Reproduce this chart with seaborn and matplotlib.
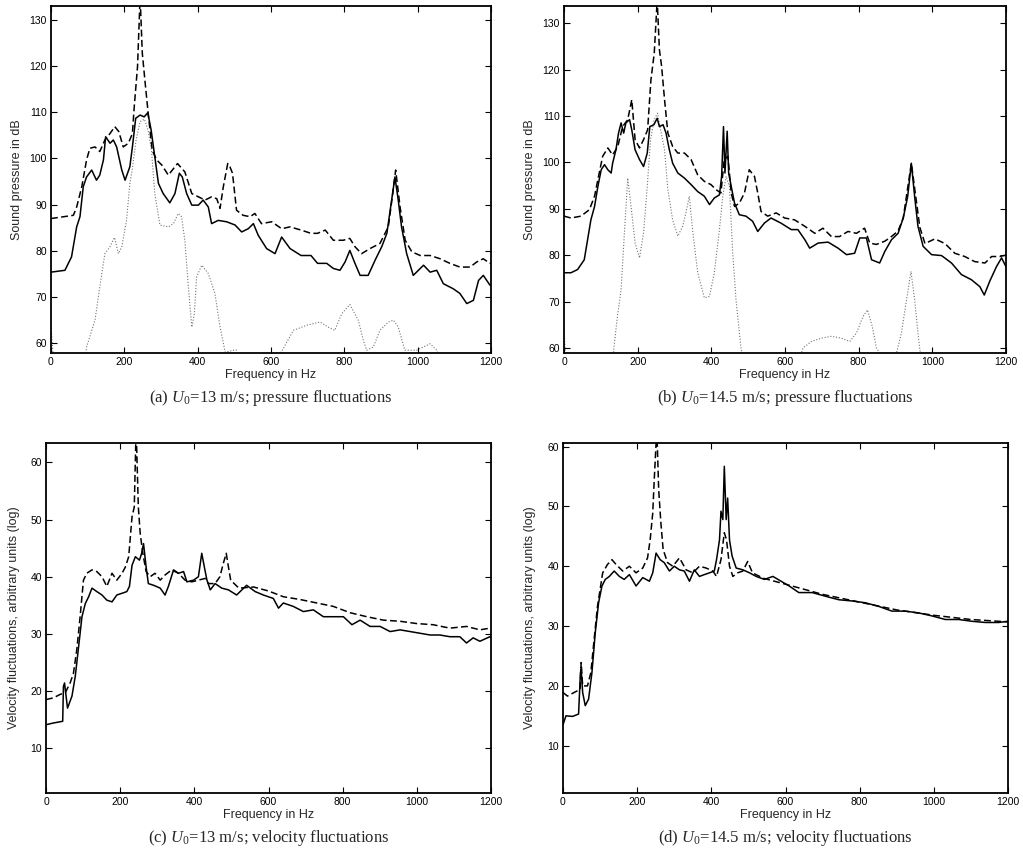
import matplotlib
matplotlib.use("Agg")
import matplotlib.pyplot as plt
import seaborn as sns

# ---------------- Panel (a): U0 = 13 m/s, pressure ----------------
a_solid_f = [0, 38, 56, 70, 79, 88, 97, 111, 124, 133, 143, 149, 161, 170, 179, 193, 202, 215, 222, 231,
             243, 254, 264, 273, 283, 293, 306, 324, 338, 350, 358, 370, 384, 402, 415, 429, 438, 456, 479, 502,
             520, 538, 552, 565, 588, 611, 629, 652, 682, 709, 727, 752, 770, 788, 802, 815, 829, 843, 865, 884,
             902, 916, 929, 938, 947, 956, 970, 988, 1002, 1016, 1034, 1052, 1070, 1097, 1115, 1134, 1152, 1166, 1179, 1197,
             1200]
a_solid_v = [75.4, 75.8, 78.7, 85.2, 87.4, 93.9, 96.0, 97.5, 95.3, 96.4, 99.7, 104.7, 103.3, 104.0, 102.5, 97.5, 95.3, 98.2, 102.5, 108.7,
             109.4, 109.0, 109.9, 106.2, 100.4, 94.6, 92.4, 90.4, 92.4, 96.8, 96.0, 92.4, 89.9, 89.9, 91.0, 89.5, 85.9, 86.6, 86.3, 85.6,
             84.1, 84.8, 85.9, 83.4, 80.5, 79.4, 83.0, 80.5, 79.0, 79.0, 77.3, 77.3, 76.2, 75.8, 77.6, 80.1, 77.3, 74.7, 74.7, 78.0,
             80.9, 83.8, 91.0, 96.0, 91.0, 85.2, 79.4, 74.7, 75.8, 76.9, 75.4, 75.8, 72.9, 71.8, 70.8, 68.6, 69.3, 73.6, 74.7, 72.6,
             72.5]
a_dash_f = [0, 61, 70, 84, 97, 106, 120, 133, 147, 161, 174, 185, 197, 211, 222, 227, 236, 243, 249, 256,
            265, 276, 288, 302, 320, 334, 345, 365, 384, 402, 420, 438, 452, 461, 470, 482, 488, 495, 506, 524,
            543, 556, 574, 602, 629, 652, 682, 709, 727, 748, 770, 797, 815, 829, 847, 870, 897, 920, 932, 940,
            952, 966, 984, 1007, 1034, 1061, 1088, 1115, 1143, 1161, 1179, 1197, 1200]
a_dash_v = [87.0, 87.7, 89.5, 93.9, 99.7, 102.2, 102.5, 101.5, 104.0, 105.4, 106.9, 105.8, 102.5, 103.3, 105.4, 111.2, 119.9, 135.0, 122.8, 117.0,
            109.8, 101.8, 99.7, 98.6, 96.4, 97.8, 98.9, 97.1, 92.4, 91.7, 91.0, 91.7, 91.3, 89.2, 93.9, 98.9, 98.2, 96.8, 88.8, 87.7,
            87.4, 88.1, 85.9, 86.3, 84.8, 85.2, 84.5, 83.8, 83.8, 84.5, 82.3, 82.3, 82.7, 80.9, 79.4, 80.5, 81.6, 85.2, 92.4, 97.5,
            89.5, 82.3, 79.8, 79.0, 79.0, 78.3, 77.3, 76.5, 76.5, 77.6, 78.3, 77.3, 77.5]
a_dot_f = [0, 6, 90, 97, 120, 133, 147, 161, 173, 184, 193, 206, 215, 222, 232, 243, 255, 265, 274, 283,
           297, 320, 334, 347, 356, 365, 374, 384, 391, 397, 411, 429, 447, 461, 475, 505, 520, 600, 633, 661,
           697, 734, 756, 774, 793, 815, 838, 852, 861, 879, 897, 920, 934, 947, 965, 997, 1015, 1034, 1052, 1070,
           1200]
a_dot_v = [64.0, 57.0, 55.0, 59.2, 65.0, 72.2, 79.4, 80.9, 82.9, 79.4, 80.9, 86.6, 94.6, 97.8, 104.0, 108.0, 108.5, 106.0, 101.8, 92.4,
           85.6, 85.2, 85.9, 88.1, 87.4, 82.3, 72.9, 63.5, 66.4, 74.3, 76.9, 75.1, 70.8, 63.5, 58.1, 58.6, 55.0, 55.0, 58.8, 62.8,
           63.9, 64.6, 63.5, 62.8, 66.4, 68.4, 65.0, 60.6, 58.5, 59.2, 62.8, 64.6, 65.0, 63.5, 58.5, 58.5, 59.2, 59.9, 58.5, 55.0,
           55.0]

# ---------------- Panel (b): U0 = 14.5 m/s, pressure ----------------
b_solid_f = [0, 19, 37, 55, 64, 73, 83, 92, 101, 110, 119, 128, 132, 141, 148, 155, 162, 168, 178, 184,
             193, 205, 216, 226, 233, 244, 253, 259, 269, 277, 286, 295, 309, 327, 345, 363, 381, 395, 408, 422,
             428, 433, 437, 443, 447, 454, 463, 476, 494, 512, 526, 544, 562, 589, 617, 635, 654, 667, 690, 717,
             744, 767, 789, 803, 821, 835, 857, 871, 889, 907, 921, 933, 943, 952, 961, 975, 998, 1025, 1052, 1079,
             1106, 1129, 1141, 1156, 1174, 1188, 1200]
b_solid_v = [76.2, 76.2, 76.9, 79.0, 83.3, 87.6, 90.5, 94.8, 98.4, 99.5, 98.4, 97.7, 99.8, 102.7, 106.3, 108.5, 106.3, 108.5, 109.2, 107.0,
             102.7, 100.6, 99.1, 102.0, 107.7, 108.1, 109.5, 107.7, 108.1, 106.3, 102.7, 99.8, 97.7, 96.6, 95.2, 93.7, 92.7, 90.9, 92.3, 93.0,
             97.0, 107.7, 97.7, 106.7, 97.7, 94.8, 91.2, 88.7, 88.4, 87.3, 85.1, 86.9, 88.0, 86.9, 85.5, 85.5, 83.3, 81.5, 82.6, 82.8,
             81.5, 80.1, 80.4, 83.7, 83.7, 79.0, 78.3, 80.8, 83.3, 84.7, 88.0, 92.6, 99.8, 92.6, 86.2, 81.9, 80.1, 79.9, 78.3, 75.8,
             74.7, 73.2, 71.4, 74.4, 77.5, 79.4, 77.5]
b_dash_f = [0, 19, 46, 69, 83, 92, 105, 119, 132, 146, 159, 173, 184, 193, 205, 216, 227, 236, 245, 253,
            259, 265, 273, 282, 295, 309, 327, 345, 363, 381, 399, 413, 426, 435, 445, 454, 463, 476, 490, 503,
            517, 526, 535, 553, 576, 599, 626, 654, 681, 703, 726, 748, 771, 794, 816, 830, 848, 871, 889, 907,
            921, 943, 966, 980, 1007, 1034, 1061, 1088, 1115, 1143, 1161, 1183, 1200]
b_dash_v = [88.4, 88.0, 88.4, 89.8, 92.7, 96.3, 101.3, 103.1, 101.6, 103.4, 107.7, 109.2, 113.5, 104.9, 103.1, 104.9, 107.0, 117.8, 123.5, 135.0,
            124.3, 120.7, 113.5, 106.3, 103.4, 102.0, 102.0, 100.6, 97.3, 95.9, 95.2, 94.1, 93.4, 100.6, 101.3, 93.4, 90.5, 91.2, 93.4, 98.4,
            97.0, 93.4, 89.4, 88.4, 89.1, 88.0, 87.6, 86.2, 84.7, 85.8, 84.0, 84.0, 85.1, 84.7, 85.8, 82.6, 82.3, 83.0, 84.0, 85.2,
            88.0, 99.8, 86.0, 82.5, 83.5, 82.5, 80.4, 79.7, 78.6, 78.3, 79.7, 79.7, 80.0]
b_dot_f = [0, 5, 130, 135, 144, 155, 164, 173, 182, 193, 205, 216, 226, 235, 245, 254, 264, 273, 282, 295,
           309, 322, 331, 340, 350, 363, 381, 395, 408, 422, 431, 440, 449, 458, 467, 481, 500, 630, 649, 672,
           699, 726, 753, 776, 794, 812, 824, 837, 848, 857, 880, 903, 916, 930, 942, 952, 961, 966, 980, 1200]
b_dot_v = [64.0, 57.0, 55.0, 59.6, 66.1, 72.6, 84.8, 96.6, 90.5, 82.6, 79.4, 84.8, 94.8, 104.9, 109.2, 110.6, 106.3, 102.7, 94.1, 87.6,
           84.1, 86.2, 89.1, 92.7, 84.8, 76.2, 70.8, 71.1, 76.2, 85.5, 92.7, 97.0, 94.8, 80.5, 70.4, 59.6, 55.0, 55.0, 60.0, 61.4,
           62.1, 62.5, 62.1, 61.4, 63.2, 66.8, 68.2, 64.6, 60.0, 59.0, 57.0, 59.0, 63.2, 70.4, 76.5, 70.4, 63.2, 59.6, 55.0, 55.0]

# ---------------- Panel (c): U0 = 13 m/s, velocity ----------------
c_solid_f = [0, 20, 45, 47, 50, 58, 70, 79, 88, 97, 106, 115, 124, 137, 151, 164, 178, 191, 205, 218,
             225, 232, 241, 252, 258, 263, 270, 276, 290, 308, 321, 330, 344, 357, 371, 380, 398, 411, 420, 427,
             434, 443, 456, 474, 492, 514, 541, 564, 586, 613, 627, 640, 667, 694, 721, 748, 775, 802, 825, 847,
             874, 901, 928, 955, 982, 1009, 1036, 1062, 1089, 1116, 1134, 1152, 1170, 1197, 1200]
c_solid_v = [14.1, 14.4, 14.7, 20.8, 21.4, 17.0, 19.1, 22.6, 27.8, 33.0, 35.3, 36.5, 38.0, 37.4, 36.8, 35.9, 35.6, 36.8, 37.1, 37.4,
             38.3, 42.0, 43.5, 42.9, 44.1, 45.8, 41.7, 38.8, 38.5, 38.0, 36.8, 38.3, 41.2, 40.6, 40.9, 39.1, 39.4, 40.0, 44.1, 41.7,
             39.4, 37.7, 38.8, 38.0, 37.7, 36.8, 38.5, 37.4, 36.8, 36.2, 34.5, 35.4, 34.8, 33.9, 34.2, 33.0, 33.0, 33.0, 31.6, 32.4,
             31.3, 31.3, 30.4, 30.7, 30.4, 30.1, 29.8, 29.8, 29.5, 29.5, 28.4, 29.3, 28.7, 29.5, 29.3]
c_dash_f = [0, 20, 38, 52, 65, 74, 83, 92, 101, 110, 124, 137, 151, 164, 178, 191, 205, 214, 223, 232,
            238, 243, 249, 254, 261, 270, 281, 294, 308, 321, 339, 357, 375, 393, 411, 429, 438, 456, 469, 478,
            486, 492, 498, 520, 560, 600, 640, 686, 775, 820, 865, 910, 955, 1000, 1044, 1089, 1134, 1170, 1197, 1200]
c_dash_v = [18.5, 18.8, 19.4, 19.7, 21.4, 23.1, 27.2, 33.0, 39.4, 40.6, 41.2, 40.9, 40.0, 38.3, 40.6, 39.4, 40.6, 41.7, 43.5, 50.5,
            52.2, 66.0, 52.2, 47.6, 44.1, 40.9, 40.0, 40.6, 39.4, 40.3, 41.2, 40.6, 39.4, 39.1, 39.4, 39.7, 38.8, 38.8, 40.0, 42.3,
            44.1, 41.7, 39.4, 38.0, 38.2, 37.5, 36.5, 36.0, 34.8, 33.7, 33.0, 32.4, 32.2, 31.8, 31.6, 31.0, 31.3, 30.7, 31.0, 31.0]

# ---------------- Panel (d): U0 = 14.5 m/s, velocity ----------------
d_solid_f = [0, 8, 26, 42, 47, 49, 53, 60, 69, 78, 87, 96, 105, 114, 125, 138, 152, 165, 179, 197,
             215, 233, 242, 251, 262, 273, 287, 300, 314, 327, 341, 354, 368, 381, 395, 408, 414, 422, 426, 431,
             435, 440, 444, 449, 456, 467, 485, 503, 521, 543, 566, 588, 610, 636, 672, 707, 744, 779, 815, 851,
             887, 923, 959, 995, 1031, 1067, 1103, 1139, 1175, 1200]
d_solid_v = [13.5, 15.0, 14.9, 15.3, 22.2, 22.8, 18.9, 16.7, 17.8, 22.2, 28.9, 33.9, 36.7, 37.8, 38.3, 39.2, 38.3, 37.8, 38.6, 36.7,
             38.1, 37.5, 38.9, 42.2, 41.1, 40.6, 39.2, 40.0, 39.4, 39.2, 37.5, 39.4, 38.3, 38.6, 38.9, 39.2, 41.1, 44.4, 49.2, 47.8,
             56.7, 47.8, 51.4, 44.4, 41.7, 39.7, 39.4, 38.9, 38.3, 37.8, 38.3, 37.5, 36.7, 35.6, 35.6, 35.0, 34.4, 34.2, 33.9, 33.3,
             32.5, 32.5, 32.2, 31.7, 31.1, 31.1, 30.8, 30.6, 30.6, 30.8]
d_dash_f = [0, 12, 30, 46, 49, 53, 66, 75, 84, 93, 107, 120, 132, 143, 161, 179, 197, 215, 228, 235,
            242, 246, 253, 258, 264, 270, 282, 296, 314, 332, 350, 368, 386, 404, 414, 426, 435, 441, 449, 458,
            471, 485, 498, 511, 540, 600, 700, 800, 900, 1000, 1100, 1200]
d_dash_v = [18.9, 18.3, 18.9, 19.4, 23.9, 20.0, 20.0, 22.2, 27.8, 33.3, 38.9, 40.3, 41.1, 40.3, 39.2, 40.0, 38.9, 39.7, 41.4, 44.4,
            48.9, 54.4, 63.0, 52.8, 47.2, 42.8, 40.6, 40.0, 41.4, 39.4, 38.9, 40.0, 39.7, 39.2, 38.3, 41.1, 45.6, 44.4, 40.0, 38.3,
            38.9, 39.2, 40.8, 38.9, 38.0, 37.0, 35.3, 34.0, 32.7, 31.8, 31.1, 30.7]

x_ticks = [0, 200, 400, 600, 800, 1000, 1200]
p_ticks = [60, 70, 80, 90, 100, 110, 120, 130]
v_ticks = [10, 20, 30, 40, 50, 60]
x_label = "Frequency in Hz"
p_label = "Sound pressure in dB"
v_label = "Velocity fluctuations, arbitrary units (log)"
captions = [r"(a) $U_0$=13 m/s; pressure fluctuations",
            r"(b) $U_0$=14.5 m/s; pressure fluctuations",
            r"(c) $U_0$=13 m/s; velocity fluctuations",
            r"(d) $U_0$=14.5 m/s; velocity fluctuations"]

sns.set_style("ticks")
plt.rcParams["font.family"] = ["Liberation Sans", "DejaVu Sans"]
plt.rcParams["mathtext.fontset"] = "custom"
plt.rcParams["mathtext.rm"] = "Liberation Serif"
plt.rcParams["mathtext.it"] = "Liberation Serif:italic"

W, H = 1023, 863
fig = plt.figure(figsize=(W / 100, H / 100), dpi=100)

# axes boxes in pixels: left, top, right, bottom
boxes = [(51, 6, 491, 353), (564, 6, 1006, 353), (46, 443, 491, 793), (563, 443, 1008, 793)]
axes = []
for (l, t, r, b) in boxes:
    axes.append(fig.add_axes([l / W, 1 - b / H, (r - l) / W, (b - t) / H]))

solid_kw = dict(color="black", linewidth=1.1, estimator=None, sort=False)
dash_kw = dict(color="black", linewidth=1.1, linestyle=(0, (4.5, 2.2)), estimator=None, sort=False)
dot_kw = dict(color="0.45", linewidth=0.8, linestyle=(0, (1, 1.6)), estimator=None, sort=False)

panels = [
    [(a_dot_f, a_dot_v, dot_kw), (a_dash_f, a_dash_v, dash_kw), (a_solid_f, a_solid_v, solid_kw)],
    [(b_dot_f, b_dot_v, dot_kw), (b_dash_f, b_dash_v, dash_kw), (b_solid_f, b_solid_v, solid_kw)],
    [(c_dash_f, c_dash_v, dash_kw), (c_solid_f, c_solid_v, solid_kw)],
    [(d_dash_f, d_dash_v, dash_kw), (d_solid_f, d_solid_v, solid_kw)],
]
ylims = [(57.9, 133.0), (58.9, 133.7), (2.15, 63.4), (2.1, 60.6)]
yticks = [p_ticks, p_ticks, v_ticks, v_ticks]
ylabels = [p_label, p_label, v_label, v_label]
ylab_x = [-0.064, -0.063, -0.059, -0.060]

for i, ax in enumerate(axes):
    for f, v, kw in panels[i]:
        sns.lineplot(x=f, y=v, ax=ax, **kw)
    ax.set_xlim(0, 1200)
    ax.set_ylim(*ylims[i])
    ax.set_xticks(x_ticks)
    ax.set_yticks(yticks[i])
    ax.tick_params(direction="in", top=True, right=True, length=4, width=0.8,
                   labelsize=7.5, colors="black", pad=3)
    for s in ax.spines.values():
        s.set_visible(True)
        s.set_linewidth(1.3)
        s.set_color("black")
    ax.set_xlabel(x_label, fontsize=9)
    ax.set_ylabel(ylabels[i], fontsize=9)
    ax.xaxis.set_label_coords(0.5, -0.045)
    ax.yaxis.set_label_coords(ylab_x[i], 0.5)
    l, t, r, b = boxes[i]
    fig.text(((l + r) / 2) / W, 1 - (b + 45) / H, captions[i], ha="center", va="center",
             fontsize=12, family="Liberation Serif")

fig.savefig("out.png", dpi=100)
